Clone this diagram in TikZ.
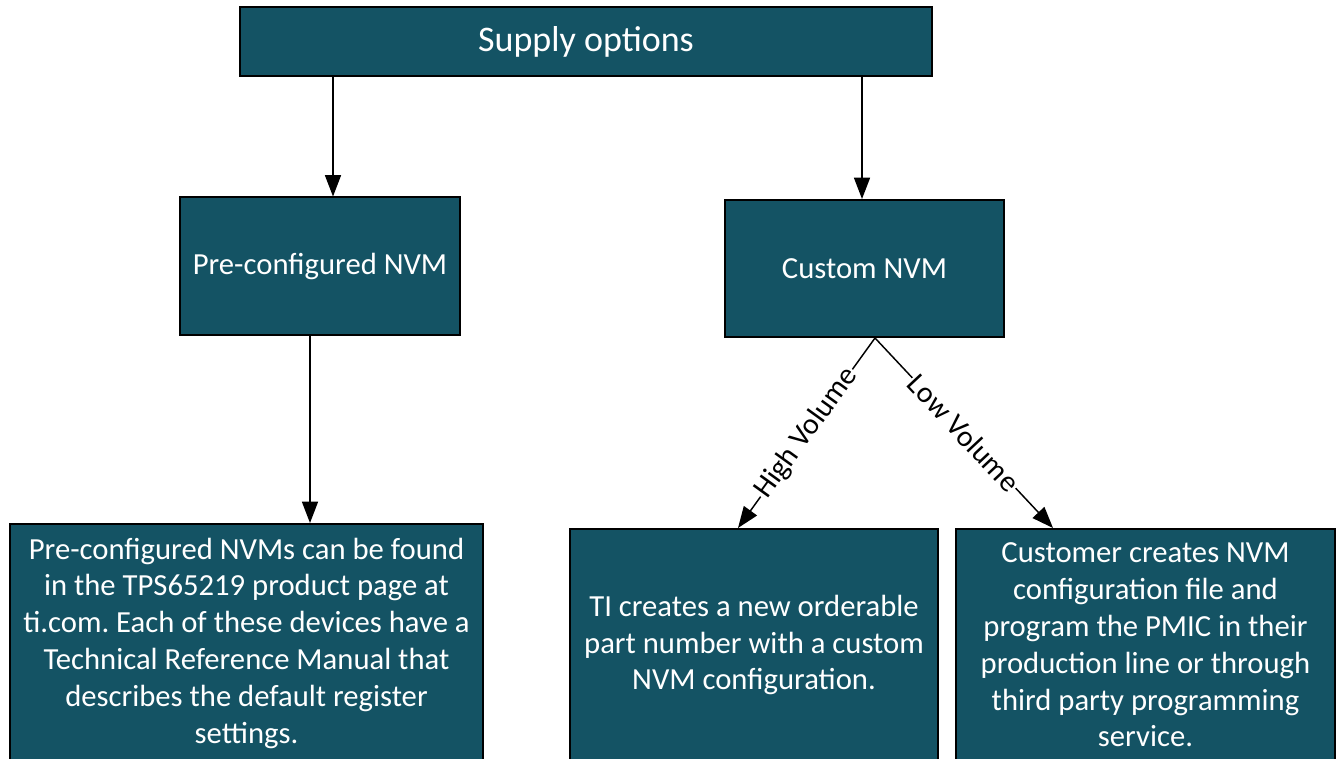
\documentclass[tikz,border=0pt]{standalone}
\usepackage{fontspec}
\setmainfont{Carlito}
\usetikzlibrary{arrows.meta}
\frenchspacing
\definecolor{boxteal}{RGB}{20,83,100}
\tikzset{
  box/.style={draw=black, line width=1.5pt, fill=boxteal, text=white, inner sep=0pt, align=center,
    font=\fontsize{23}{27.6}\selectfont},
  arr/.style={line width=1.1pt, -{Triangle[length=16pt,width=12pt]}},
  lbl/.style={midway, sloped, fill=white, inner sep=1pt, font=\fontsize{22.3}{24}\selectfont}
}
\begin{document}
\begin{tikzpicture}[x=0.75pt, y=-0.75pt]
\useasboundingbox (0,0) rectangle (1337,759);
\node[box, minimum width=519pt, minimum height=51.75pt, font=\fontsize{27}{30}\selectfont] (sup) at (586,41.5) {Supply options};
\node[box, minimum width=210pt, minimum height=102.75pt] (pre) at (320,266) {Pre-configured NVM};
\node[box, minimum width=209.25pt, minimum height=102.75pt] (cus) at (864.5,268.5) {Custom NVM};
\node[box, minimum width=354.75pt, minimum height=178.5pt] (lb) at (246.5,643) {Pre-configured NVMs can be found\\in the TPS65219 product page at\\ti.com. Each of these devices have a\\Technical Reference Manual that\\describes the default register\\settings.};
\node[box, minimum width=276pt, minimum height=174pt] (mid) at (754,645) {TI creates a new orderable\\part number with a custom\\NVM configuration.};
\node[box, minimum width=284.25pt, minimum height=174pt] (rb) at (1145.5,645) {Customer creates NVM\\configuration file and\\program the PMIC in their\\production line or through\\third party programming\\service.};
\draw[arr] (sup.south -| 333,0) -- (pre.north -| 333,0);
\draw[arr] (sup.south -| 862,0) -- (cus.north -| 862,0);
\draw[arr] (pre.south -| 310,0) -- (lb.north -| 310,0);
\coordinate (apex) at (cus.south -| 875,0);
\draw[arr] (apex) -- (mid.north -| 738,0) node[lbl] {High Volume};
\draw[arr] (apex) -- (rb.north -| 1053,0) node[lbl] {Low Volume};
\end{tikzpicture}
\end{document}
